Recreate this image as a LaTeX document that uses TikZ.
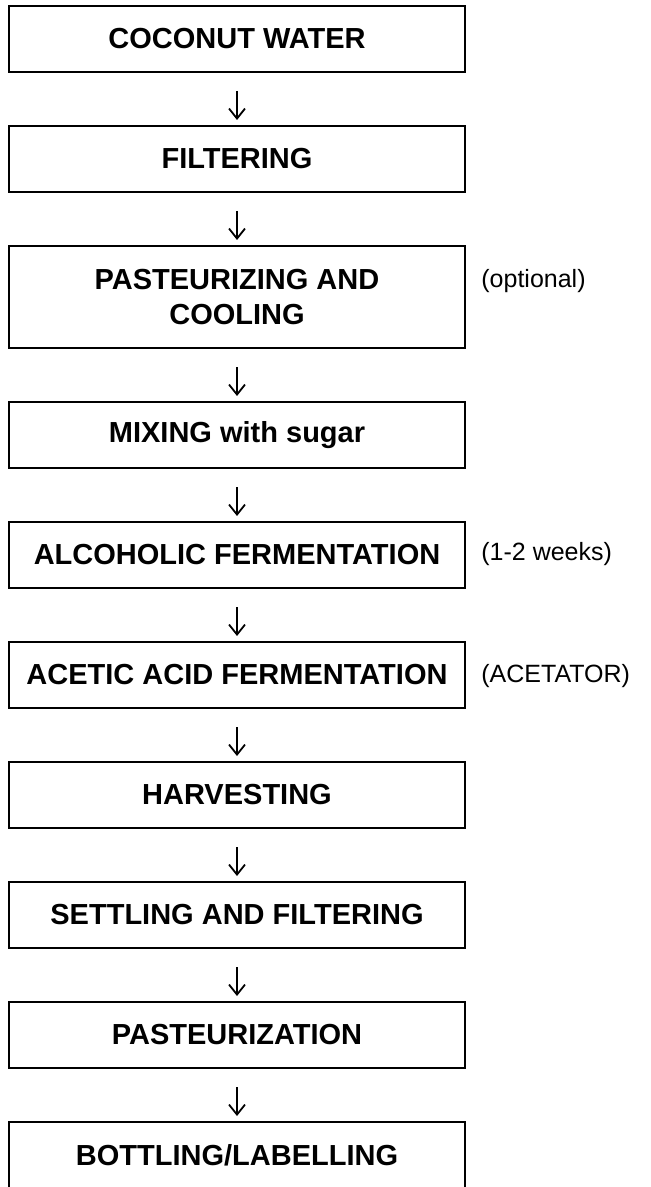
\documentclass[tikz,border=0pt]{standalone}
\usepackage{fontspec}
\setmainfont{Liberation Sans}
\usetikzlibrary{arrows.meta, positioning}

\begin{document}
\begin{tikzpicture}[
    x=0.5pt, y=-0.5pt,
    stepbox/.style={draw, line width=1pt, minimum width=228pt, minimum height=33pt, inner sep=0pt, align=center, font=\fontsize{14.5}{17.5}\selectfont\bfseries},
    note/.style={anchor=west, inner sep=0pt, font=\fontsize{12.5}{15}\selectfont},
    arrow/.style={-{Straight Barb[length=5pt, width=8pt, line width=0.9pt]}, line width=0.7pt, shorten <=9pt, shorten >=2.5pt}
]
    \useasboundingbox (0,0) rectangle (651,1187);

    % Process steps
    \node[stepbox] (water) at (237,39) {COCONUT WATER};
    \node[stepbox] (filtering) at (237,159) {FILTERING};
    \node[stepbox, minimum height=51pt] (pasteurizing) at (237,297) {PASTEURIZING AND\\COOLING};
    \node[stepbox] (mixing) at (237,435) {MIXING with sugar};
    \node[stepbox] (alcoholic) at (237,555) {ALCOHOLIC FERMENTATION};
    \node[stepbox] (acetic) at (237,675) {ACETIC ACID FERMENTATION};
    \node[stepbox] (harvesting) at (237,795) {HARVESTING};
    \node[stepbox] (settling) at (237,915) {SETTLING AND FILTERING};
    \node[stepbox] (pasteurization) at (237,1035) {PASTEURIZATION};
    \node[stepbox] (bottling) at (237,1155) {BOTTLING/LABELLING};

    % Side notes
    \node[note] (optional) at (481,281) {(optional)};
    \node[note] (weeks) at (481,554) {(1-2 weeks)};
    \node[note] (acetator) at (481,676) {(ACETATOR)};

    % Flow arrows
    \draw[arrow] (water.south) -- (filtering.north);
    \draw[arrow] (filtering.south) -- (pasteurizing.north);
    \draw[arrow] (pasteurizing.south) -- (mixing.north);
    \draw[arrow] (mixing.south) -- (alcoholic.north);
    \draw[arrow] (alcoholic.south) -- (acetic.north);
    \draw[arrow] (acetic.south) -- (harvesting.north);
    \draw[arrow] (harvesting.south) -- (settling.north);
    \draw[arrow] (settling.south) -- (pasteurization.north);
    \draw[arrow] (pasteurization.south) -- (bottling.north);

\end{tikzpicture}
\end{document}
